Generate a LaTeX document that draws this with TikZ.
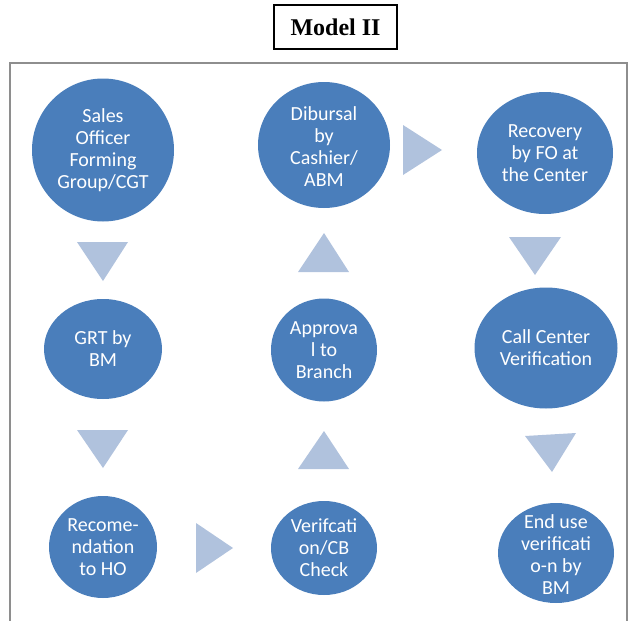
\documentclass[tikz,border=0pt]{standalone}
\usepackage{fontspec}
\setmainfont{Carlito}
\newfontfamily\titlefont{Liberation Serif}
\usetikzlibrary{shapes.geometric}
\definecolor{stageblue}{HTML}{4A7EBB}
\definecolor{arrowblue}{HTML}{B0C2DD}
\definecolor{framegray}{HTML}{8E8E8E}
\begin{document}
\begin{tikzpicture}[x=1pt,y=-1pt,
  stage/.style={ellipse, fill=stageblue, inner sep=0pt},
  stagetext/.style={text=white, align=center, inner sep=0pt,
    font=\fontsize{20}{22}\selectfont},
  pointer/.style={fill=arrowblue}]
\useasboundingbox (0,0) rectangle (630,621);

% outer frame, open at the bottom
\draw[framegray, line width=2pt] (10,625) -- (10,63) -- (627,63) -- (627,625);

% heading
\node[draw=black, line width=1.8pt, minimum width=123pt, minimum height=44pt,
  inner sep=0pt, font=\titlefont\bfseries\fontsize{24}{28}\selectfont]
  (title) at (335.5,27) {Model II};

% process stages
\node[stage, minimum width=142pt, minimum height=143pt] (s1) at (103,150) {};
\node[stage, minimum width=118pt, minimum height=100pt] (s2) at (103,349) {};
\node[stage, minimum width=108pt, minimum height=102pt] (s3) at (103,547) {};
\node[stage, minimum width=106pt, minimum height=94pt]  (s4) at (324,548) {};
\node[stage, minimum width=106pt, minimum height=103pt] (s5) at (324,350) {};
\node[stage, minimum width=132pt, minimum height=126pt] (s6) at (324,145) {};
\node[stage, minimum width=136pt, minimum height=122pt] (s7) at (545,153) {};
\node[stage, minimum width=143pt, minimum height=121pt] (s8) at (546,348) {};
\node[stage, minimum width=116pt, minimum height=100pt] (s9) at (556,553) {};

\node[stagetext] (s1t) at (s1) {Sales\\Officer\\Forming\\Group/CGT};
\node[stagetext] (s2t) at (s2) {GRT by\\BM};
\node[stagetext] (s3t) at (s3) {Recome-\\ndation\\to HO};
\node[stagetext] (s4t) at (s4) {Verifcati\\on/CB\\Check};
\node[stagetext] (s5t) at (s5) {Approva\\l to\\Branch};
\node[stagetext] (s6t) at ([yshift=-2pt]s6.center) {Dibursal\\by\\Cashier/\\ABM};
\node[stagetext] (s7t) at (s7) {Recovery\\by FO at\\the Center};
\node[stagetext] (s8t) at (s8) {Call Center\\Verification};
\node[stagetext] (s9t) at ([yshift=-2pt]s9.center) {End use\\verificati\\o-n by\\BM};

% flow pointers between stages
\fill[pointer] (77,242) -- (128,242) -- (103,281) -- cycle;
\fill[pointer] (77,430) -- (128,430) -- (103,468) -- cycle;
\fill[pointer] (196,523) -- (196,573) -- (233,548) -- cycle;
\fill[pointer] (298,469) -- (349,469) -- (324,431) -- cycle;
\fill[pointer] (298,272) -- (349,272) -- (324,233) -- cycle;
\fill[pointer] (403,125) -- (403,175) -- (442,150) -- cycle;
\fill[pointer] (509,237) -- (561,237) -- (535,275) -- cycle;
\fill[pointer] (525,436) -- (576,433) -- (552,472) -- cycle;
\end{tikzpicture}
\end{document}
